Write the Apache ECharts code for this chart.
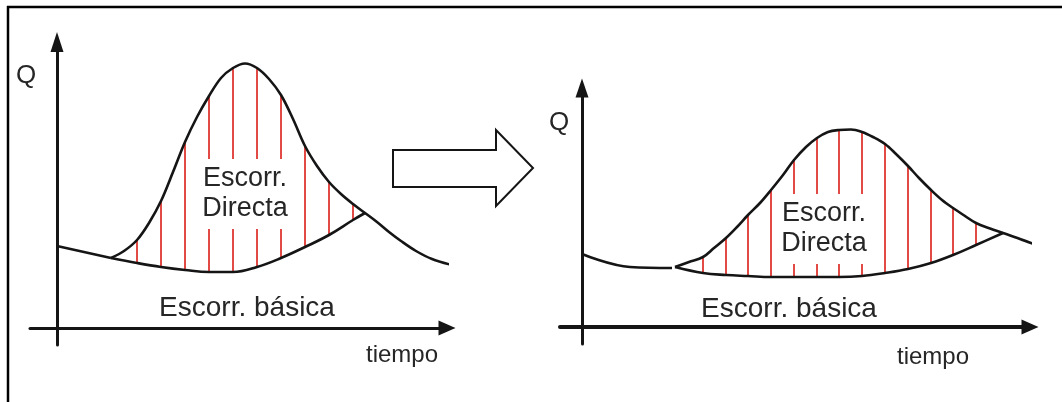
<!DOCTYPE html>
<html>
<head>
<meta charset="utf-8">
<script src="https://cdn.jsdelivr.net/npm/echarts@6/dist/echarts.min.js"></script>
<style>
  html, body { margin: 0; padding: 0; background: #fff; }
  #chart { width: 1062px; height: 402px; }
</style>
</head>
<body>
<div id="chart"></div>
<script>
// Flood hydrographs: time t and discharge Q (plot units).
// Left: sharp storm response. Right: the same event attenuated.

// --- left hydrograph ---
const preT1   = [0, 5.4];
const preQ1   = [8.2, 7.0];
const totalT1 = [5.4, 6.7, 8.0, 9.2, 10.4, 11.6, 12.8, 14.0, 15.2, 16.4, 17.6, 18.8, 20.0, 21.2, 22.4, 23.6,
                 24.8, 26.0, 27.2, 28.4, 29.6, 30.8, 32.0, 33.2, 34.4, 35.9, 37.5, 39.5];
const totalQ1 = [7.0, 7.7, 8.8, 10.5, 12.7, 15.6, 18.6, 21.1, 23.2, 25.0, 26.0, 26.45, 26.0, 24.9, 23.3, 20.9,
                 18.2, 16.2, 14.6, 13.4, 12.4, 11.5, 10.6, 9.6, 8.7, 7.7, 6.9, 6.3];
const baseT1  = [5.4, 8.0, 10.4, 12.8, 15.2, 17.6, 20.0, 22.4, 24.8, 27.2, 29.6, 30.8];
const baseQ1  = [7.0, 6.5, 6.1, 5.8, 5.6, 5.6, 6.1, 7.0, 8.1, 9.3, 10.8, 11.5];
const hatchT1 = [8.0, 10.4, 12.8, 15.2, 17.6, 20.0, 22.4, 24.8, 27.2, 29.6];

// --- right hydrograph ---
const preT2   = [0, 4.8, 9.0];
const preQ2   = [7.3, 6.0, 5.9];
const totalT2 = [9.3, 10.7, 12.1, 13.2, 14.4, 15.5, 16.6, 17.8, 18.9, 20.1, 21.2, 22.4, 23.5, 24.6, 25.7, 26.9,
                 28.0, 29.1, 30.3, 31.4, 32.6, 33.7, 34.9, 36.0, 37.1, 38.3, 39.4, 40.8, 42.1, 43.8, 45.4];
const totalQ2 = [6.0, 6.5, 7.0, 7.9, 8.9, 10.0, 11.2, 12.4, 13.7, 15.2, 16.7, 18.0, 18.9, 19.5, 19.7, 19.75,
                 19.5, 19.0, 18.3, 17.3, 16.1, 14.9, 13.7, 12.7, 11.9, 11.1, 10.4, 9.85, 9.4, 8.8, 8.2];
const baseT2  = [9.3, 12.1, 14.4, 16.6, 18.9, 21.2, 23.5, 25.7, 28.0, 30.3, 32.6, 34.9, 37.1, 39.4, 42.1];
const baseQ2  = [6.0, 5.4, 5.2, 5.1, 5.0, 5.0, 5.0, 5.0, 5.1, 5.4, 5.8, 6.4, 7.2, 8.2, 9.4];
const hatchT2 = [12.1, 14.4, 16.6, 18.9, 21.2, 23.5, 25.7, 28.0, 30.3, 32.6, 34.9, 37.1, 39.4];

// labels
const axisNameQ = 'Q';
const axisNameT = 'tiempo';
const labelDirect = 'Escorr.\nDirecta';
const labelBase = 'Escorr. básica';

const INK = '#151515';
const TEXT = '#262626';
const HATCH = '#e24b45';
const FONT = '"Liberation Sans", Arial, Helvetica, sans-serif';

const zip = (ts, qs) => ts.map((t, i) => [t, qs[i]]);
const valueAt = (ts, qs, t) => qs[ts.indexOf(t)];
const hatchRows = (hs, tT, tQ, bT, bQ) => hs.map(t => [t, valueAt(bT, bQ, t), valueAt(tT, tQ, t)]);

function axisPair(grid, xr, yr, xWidth, yWidth, xArrow, yArrow) {
  const common = {
    type: 'value', gridIndex: grid,
    axisTick: { show: false }, axisLabel: { show: false }, splitLine: { show: false }
  };
  return {
    x: Object.assign({}, common, {
      min: xr[0], max: xr[1],
      axisLine: { show: true, onZero: true, symbol: ['none', 'triangle'], symbolSize: xArrow,
                  lineStyle: { color: INK, width: xWidth } }
    }),
    y: Object.assign({}, common, {
      min: yr[0], max: yr[1],
      axisLine: { show: true, onZero: true, symbol: ['none', 'triangle'], symbolSize: yArrow,
                  lineStyle: { color: INK, width: yWidth } }
    })
  };
}

const a1 = axisPair(0, [-2.7, 39], [-1.7, 28.6], 3, 3, [15, 17], [13, 20]);
const a2 = axisPair(1, [-2.2, 44.8], [-1.7, 23.9], 4, 3, [15, 17], [13, 19]);

function curve(grid, data, smooth) {
  return {
    type: 'line', xAxisIndex: grid, yAxisIndex: grid, data: data,
    smooth: smooth, showSymbol: false, symbol: 'none', clip: false, z: 3,
    lineStyle: { color: INK, width: 2.6 }, silent: true
  };
}

function hatch(grid, rows) {
  return {
    type: 'custom', xAxisIndex: grid, yAxisIndex: grid, data: rows, z: 1, silent: true,
    renderItem: (params, api) => {
      const p1 = api.coord([api.value(0), api.value(1)]);
      const p2 = api.coord([api.value(0), api.value(2)]);
      return {
        type: 'line',
        shape: { x1: p1[0], y1: p1[1], x2: p2[0], y2: p2[1] },
        style: { stroke: HATCH, lineWidth: 2 }
      };
    }
  };
}

function label(text, x, y, size, extra) {
  return {
    type: 'text', x: x, y: y, z: 20, silent: true,
    style: Object.assign({
      text: text, fill: TEXT, font: size + 'px ' + FONT,
      align: 'center', verticalAlign: 'middle'
    }, extra || {})
  };
}

const boxStyle = { backgroundColor: '#fff', padding: [5, 1, 5, 1], lineHeight: 30 };

const chart = echarts.init(document.getElementById('chart'), null, { renderer: 'canvas' });
chart.setOption({
  animation: false,
  backgroundColor: '#fff',
  grid: [
    { left: 30, top: 42, width: 417, height: 303 },
    { left: 560, top: 88, width: 470, height: 256 }
  ],
  xAxis: [a1.x, a2.x],
  yAxis: [a1.y, a2.y],
  series: [
    hatch(0, hatchRows(hatchT1, totalT1, totalQ1, baseT1, baseQ1)),
    curve(0, zip(preT1, preQ1), false),
    curve(0, zip(totalT1, totalQ1), 0.35),
    curve(0, zip(baseT1, baseQ1), 0.4),
    hatch(1, hatchRows(hatchT2, totalT2, totalQ2, baseT2, baseQ2)),
    curve(1, zip(preT2, preQ2), 0.4),
    curve(1, zip(totalT2, totalQ2), 0.35),
    curve(1, zip(baseT2, baseQ2), 0.4)
  ],
  graphic: [
    // frame edges
    { type: 'line', z: 30, silent: true, shape: { x1: 7, y1: 7, x2: 1062, y2: 7 }, style: { stroke: '#000', lineWidth: 2.5 } },
    { type: 'line', z: 30, silent: true, shape: { x1: 8, y1: 6, x2: 8, y2: 402 }, style: { stroke: '#000', lineWidth: 2.5 } },
    // transition arrow
    {
      type: 'polygon', z: 20, silent: true,
      shape: { points: [[393, 150], [496, 150], [496, 130], [533, 168], [496, 206], [496, 187], [393, 187]] },
      style: { fill: '#fff', stroke: INK, lineWidth: 2 }
    },
    // left panel text
    label(axisNameQ, 26, 76, 26),
    label(axisNameT, 402, 355, 24),
    label(labelBase, 247, 308, 28),
    label(labelDirect, 245, 194, 27, boxStyle),
    // right panel text
    label(axisNameQ, 559, 123, 26),
    label(axisNameT, 933, 357, 24),
    label(labelBase, 789, 309, 28),
    label(labelDirect, 824, 229, 27, boxStyle)
  ]
});
</script>
</body>
</html>
